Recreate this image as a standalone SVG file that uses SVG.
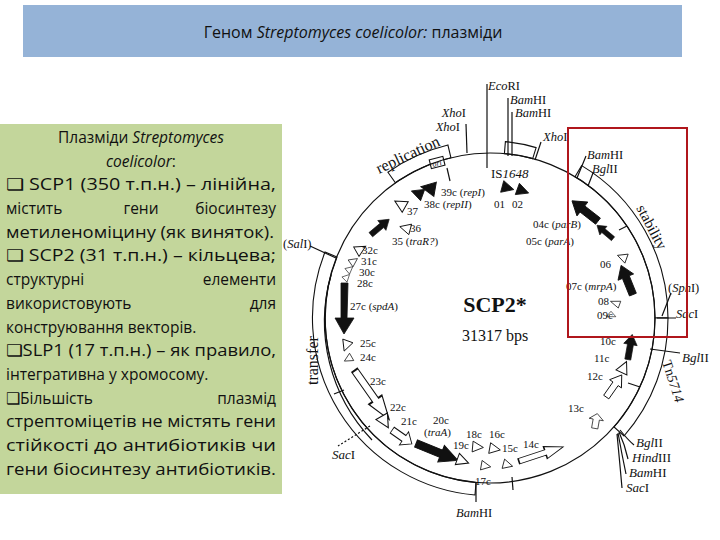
<svg xmlns="http://www.w3.org/2000/svg" width="720" height="540" viewBox="0 0 720 540">
<style>
.t{font-family:"Open Sans","Liberation Sans",sans-serif;font-size:15.5px;fill:#111}
.d{font-family:"Liberation Serif","DejaVu Serif",serif;font-size:12.5px;fill:#111}
.g{font-size:11px}
.i{font-style:italic}
.ln{stroke:#111;stroke-width:1.2;fill:none}
.band{fill:#fff;stroke:#111;stroke-width:1.1}
.fa{fill:#111;stroke:#111;stroke-width:0.8}
.oa{fill:#fff;stroke:#111;stroke-width:1}
</style>
<defs>
<polygon id="arr" points="-15,-3.5 3,-3.5 3,-8 15,0 3,8 3,3.5 -15,3.5"/>
<polygon id="tri" points="-6,-6 6,0 -6,6"/>
</defs>
<rect width="720" height="540" fill="#fff"/>
<g id="title">
<rect x="23" y="5" width="659" height="52" fill="#95b3d7"/>
<text x="353" y="38" text-anchor="middle" font-family="Open Sans,Liberation Sans,sans-serif" font-size="16" fill="#111">Геном <tspan font-style="italic">Streptomyces coelicolor:</tspan> плазміди</text>
</g>
<g id="textbox">
<rect x="0" y="124" width="282" height="370" fill="#c3d69b"/>
<text class="t" x="141" y="143" text-anchor="middle">Плазміди <tspan class="i">Streptomyces</tspan></text>
<text class="t i" x="141" y="167" text-anchor="middle">coelicolor<tspan font-style="normal">:</tspan></text>
<text class="t" x="6" y="190" textLength="270" lengthAdjust="spacingAndGlyphs">❑ SCP1 (350 т.п.н.) – лінійна,</text>
<text class="t" x="6" y="214">містить</text><text class="t" x="141" y="214" text-anchor="middle">гени</text><text class="t" x="276" y="214" text-anchor="end">біосинтезу</text>
<text class="t" x="6" y="238" textLength="268" lengthAdjust="spacingAndGlyphs">метиленоміцину (як виняток).</text>
<text class="t" x="6" y="261" textLength="270" lengthAdjust="spacingAndGlyphs">❑ SCP2 (31 т.п.н.) – кільцева;</text>
<text class="t" x="6" y="285">структурні</text><text class="t" x="276" y="285" text-anchor="end">елементи</text>
<text class="t" x="6" y="309">використовують</text><text class="t" x="276" y="309" text-anchor="end">для</text>
<text class="t" x="6" y="333">конструювання векторів.</text>
<text class="t" x="6" y="356" textLength="270" lengthAdjust="spacingAndGlyphs">❑SLP1 (17 т.п.н.) – як правило,</text>
<text class="t" x="6" y="380">інтегративна у хромосому.</text>
<text class="t" x="6" y="404">❑Більшість</text><text class="t" x="276" y="404" text-anchor="end">плазмід</text>
<text class="t" x="6" y="427" textLength="270" lengthAdjust="spacingAndGlyphs">стрептоміцетів не містять гени</text>
<text class="t" x="6" y="451" textLength="270" lengthAdjust="spacingAndGlyphs">стійкості до антибіотиків чи</text>
<text class="t" x="6" y="475" textLength="270" lengthAdjust="spacingAndGlyphs">гени біосинтезу антибіотиків.</text>
</g>
<g id="map">
<path class="band" d="M395.4,182.8 A165,165 0 0 1 450.9,157.7 L447.9,145.0 A178,178 0 0 0 387.9,172.2 Z"/>
<rect x="430" y="158" width="14" height="9" class="band" transform="rotate(-14 437 162)"/>
<text class="d i" x="432" y="166" style="font-size:8px" transform="rotate(-14 437 162)">ori</text>
<path class="band" d="M504.4,153.6 A165,165 0 0 1 532.7,158.6 L536.1,147.6 A177,177 0 0 0 505.4,141.6 Z"/>
<path class="band" d="M575,176.7 A165,165 0 0 1 655,318 L668,318 A178,178 0 0 0 581.7,165.6 Z"/>
<path class="band" d="M655,318 A165,165 0 0 1 614,427 L624,436 A178,178 0 0 0 668,318 Z"/>
<path class="band" d="M337,257 A165,165 0 0 0 476,482.5 L475,495 A178,178 0 0 1 325,252 Z"/>
<path class="ln" d="M331,275 A171,171 0 0 0 372,440"/>
<circle cx="490" cy="318" r="165" class="ln"/>
<g class="ln">
<path d="M487,84 V168"/>
<path d="M508,98 V156 M512,112 V156"/>
<path d="M466,124 L467,153"/>
<path d="M541,142 L535,160"/>
<path d="M586,156 L577,178 M593,173 L588,186"/>
<path d="M310,246 L336,258"/>
<path d="M447,168 L450,181"/>
<path d="M671,293 L662,316 M657,318 H676"/>
<path d="M650,349 L680,353"/>
<path d="M476,483 V502"/>
<path d="M512,477 L513,490"/>
<path d="M620,430 Q628,440 634,445 M619,432 Q625,445 628,459 M618,433 Q622,455 626,474 M617,434 Q620,465 622,488"/>
<path d="M628,383 L640,387"/>
<path d="M619,230 L627,226"/>
<path d="M344,390 L334,394"/>
<path d="M370,426 L338,446" stroke-dasharray="2,2"/>
</g>
<use href="#tri" class="fa" transform="translate(508,188) rotate(15)"/>
<use href="#tri" class="fa" transform="translate(523,191) rotate(20)"/>
<use href="#tri" class="fa" transform="translate(428,188) rotate(190) scale(1.2)"/>
<use href="#tri" class="fa" transform="translate(417,193) rotate(200)"/>
<use href="#tri" class="oa" transform="translate(400,204) rotate(210)"/>
<use href="#tri" class="oa" transform="translate(405,228) rotate(195) scale(0.9)"/>
<use href="#arr" class="fa" transform="translate(380,227) rotate(-40) scale(0.8)"/>
<use href="#tri" class="oa" transform="translate(361,249) rotate(-30) scale(0.9)"/>
<use href="#tri" class="oa" transform="translate(354,261) rotate(-35) scale(0.7)"/>
<use href="#tri" class="oa" transform="translate(350,269) rotate(-40) scale(0.6)"/>
<use href="#tri" class="oa" transform="translate(347,277) rotate(-45) scale(0.6)"/>
<path class="fa" d="M341,283 L348,283 L347,318 L354,318 L344,334 L335,318 L341,318 Z"/>
<use href="#tri" class="oa" transform="translate(346,346) rotate(110) scale(0.9)"/>
<use href="#tri" class="oa" transform="translate(348,359) rotate(150) scale(0.7)"/>
<use href="#arr" class="oa" transform="translate(372,395) rotate(55) scale(2,1)"/>
<use href="#tri" class="oa" transform="translate(385,422) rotate(60) scale(1.1)"/>
<use href="#arr" class="oa" transform="translate(402,437) rotate(35) scale(0.8,1)"/>
<use href="#arr" class="fa" transform="translate(437,452) rotate(22) scale(1.5,1.1)"/>
<use href="#tri" class="oa" transform="translate(463,461) rotate(20)"/>
<use href="#tri" class="oa" transform="translate(478,447) rotate(5) scale(0.9)"/>
<use href="#tri" class="oa" transform="translate(495,449) rotate(10) scale(0.9)"/>
<use href="#tri" class="oa" transform="translate(486,466) rotate(10) scale(0.8)"/>
<use href="#tri" class="oa" transform="translate(508,465) rotate(15) scale(0.8)"/>
<use href="#arr" class="oa" transform="translate(541,454) rotate(-18) scale(1.55,0.8)"/>
<use href="#arr" class="oa" transform="translate(596,421) rotate(-80) scale(0.5,0.9)"/>
<use href="#arr" class="oa" transform="translate(614,386) rotate(-55) scale(0.9)"/>
<use href="#tri" class="oa" transform="translate(624,367) rotate(-65)"/>
<use href="#arr" class="fa" transform="translate(630,347) rotate(-80) scale(0.85)"/>
<use href="#tri" class="oa" transform="translate(611,314) rotate(-90) scale(0.45,0.8)"/>
<use href="#tri" class="oa" transform="translate(615,303) rotate(200) scale(0.8,0.6)"/>
<use href="#arr" class="fa" transform="translate(627,280) rotate(-112) scale(1.05)"/>
<use href="#tri" class="oa" transform="translate(622,257) rotate(200) scale(0.8)"/>
<use href="#arr" class="fa" transform="translate(605,232) rotate(-140) scale(0.7)"/>
<use href="#arr" class="fa" transform="translate(585,211) rotate(-142) scale(1.1)"/>
<text class="d" x="488" y="90"><tspan class="i">Eco</tspan>RI</text>
<text class="d" x="510" y="104"><tspan class="i">Bam</tspan>HI</text>
<text class="d" x="515" y="117"><tspan class="i">Bam</tspan>HI</text>
<text class="d" x="466" y="117" text-anchor="end"><tspan class="i">Xho</tspan>I</text>
<text class="d" x="460" y="131" text-anchor="end"><tspan class="i">Xho</tspan>I</text>
<text class="d" x="543" y="141"><tspan class="i">Xho</tspan>I</text>
<text class="d" x="587" y="159"><tspan class="i">Bam</tspan>HI</text>
<text class="d" x="592" y="173"><tspan class="i">Bgl</tspan>II</text>
<text class="d" x="491" y="178" style="font-size:13px">IS<tspan class="i">1648</tspan></text>
<text class="d" x="379" y="174" style="font-size:16px" transform="rotate(-25 379 174)">replication</text>
<text class="d g" x="441" y="196">39c (<tspan class="i">repI</tspan>)</text>
<text class="d g" x="424" y="208">38c (<tspan class="i">repII</tspan>)</text>
<text class="d g" x="494" y="208">01</text>
<text class="d g" x="512" y="208">02</text>
<text class="d g" x="407" y="215">37</text>
<text class="d g" x="410" y="232">36</text>
<text class="d g" x="392" y="245">35 (<tspan class="i">traR?</tspan>)</text>
<text class="d g" x="533" y="228">04c (<tspan class="i">parB</tspan>)</text>
<text class="d g" x="526" y="245">05c (<tspan class="i">parA</tspan>)</text>
<text class="d g" x="600" y="268">06</text>
<text class="d g" x="566" y="290">07c (<tspan class="i">mrpA</tspan>)</text>
<text class="d g" x="598" y="305">08</text>
<text class="d g" x="597" y="319">09c</text>
<text class="d" x="636" y="208" style="font-size:15px" transform="rotate(62 636 208)">stability</text>
<text class="d" x="283" y="248">(<tspan class="i">Sal</tspan>I)</text>
<text class="d g" x="362" y="254">32c</text>
<text class="d g" x="361" y="265">31c</text>
<text class="d g" x="359" y="276">30c</text>
<text class="d g" x="357" y="287">28c</text>
<text class="d" x="668" y="292">(<tspan class="i">Sph</tspan>I)</text>
<text class="d" x="676" y="318"><tspan class="i">Sac</tspan>I</text>
<text x="495" y="312" text-anchor="middle" font-family="Liberation Serif,serif" font-size="22" font-weight="bold" fill="#111">SCP2*</text>
<text x="495" y="341" text-anchor="middle" font-family="Liberation Serif,serif" font-size="16" fill="#111">31317 bps</text>
<text class="d g" x="350" y="310">27c (<tspan class="i">spdA</tspan>)</text>
<text class="d" x="318" y="385" style="font-size:16px" transform="rotate(-90 318 385)">transfer</text>
<text class="d g" x="360" y="347">25c</text>
<text class="d g" x="360" y="361">24c</text>
<text class="d g" x="370" y="385">23c</text>
<text class="d g" x="390" y="411">22c</text>
<text class="d g" x="401" y="425">21c</text>
<text class="d g" x="433" y="424">20c</text>
<text class="d g" x="424" y="436">(<tspan class="i">traA</tspan>)</text>
<text class="d" x="332" y="459" style="font-size:13px"><tspan class="i">Sac</tspan>I</text>
<text class="d g" x="453" y="449">19c</text>
<text class="d g" x="466" y="438">18c</text>
<text class="d g" x="489" y="438">16c</text>
<text class="d g" x="502" y="452">15c</text>
<text class="d g" x="523" y="448">14c</text>
<text class="d g" x="475" y="485">17c</text>
<text class="d" x="456" y="517"><tspan class="i">Bam</tspan>HI</text>
<text class="d g" x="568" y="412">13c</text>
<text class="d g" x="587" y="380">12c</text>
<text class="d g" x="594" y="362">11c</text>
<text class="d g" x="600" y="345">10c</text>
<text class="d" x="682" y="362" style="font-size:13px"><tspan class="i">Bgl</tspan>II</text>
<text class="d" x="662" y="362" style="font-size:14px" transform="rotate(72 662 362)">Tn<tspan class="i">5714</tspan></text>
<text class="d" x="636" y="447" style="font-size:13px"><tspan class="i">Bgl</tspan>II</text>
<text class="d" x="632" y="462" style="font-size:13px"><tspan class="i">Hind</tspan>III</text>
<text class="d" x="629" y="477" style="font-size:13px"><tspan class="i">Bam</tspan>HI</text>
<text class="d" x="626" y="492" style="font-size:13px"><tspan class="i">Sac</tspan>I</text>
</g>
<rect id="highlight" x="568" y="128" width="119" height="209" fill="none" stroke="#b0161c" stroke-width="2"/>
</svg>
